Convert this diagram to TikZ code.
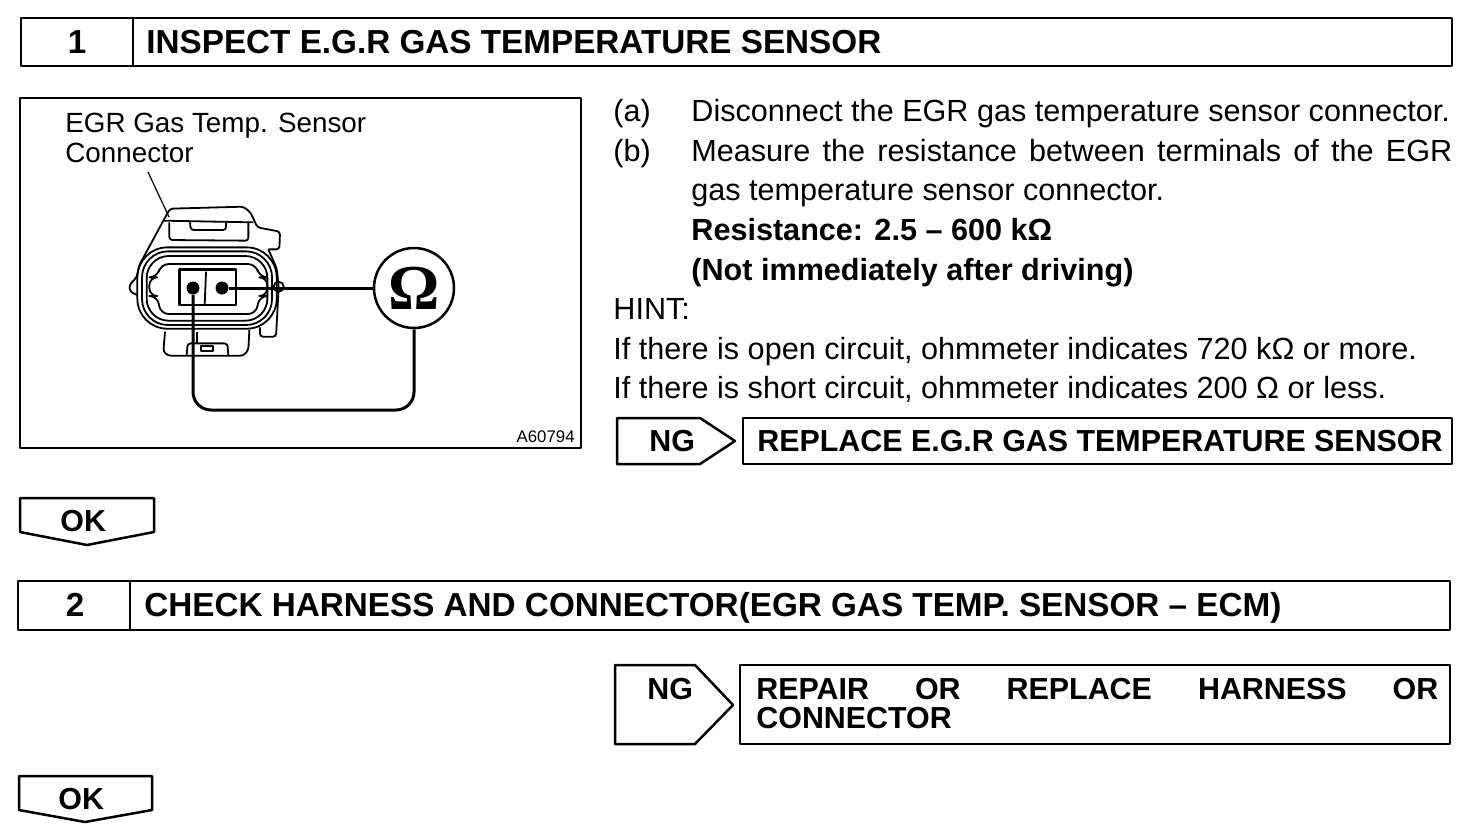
\documentclass[tikz,border=0pt]{standalone}
\usepackage{fontspec}
\setmainfont{Liberation Sans}
\newfontfamily\ohmfont{Liberation Serif}
\usetikzlibrary{positioning}
\begin{document}
\begin{tikzpicture}[
    x=0.5pt, y=-0.5pt,
    frame/.style={draw=black, line width=1.25pt, line join=round},
    part/.style={draw=black, line width=0.9pt, line join=round, rounded corners=1.5pt},
    wire/.style={draw=black, line width=1.5pt},
    heading/.style={font=\bfseries\fontsize{16.63}{18}\selectfont, anchor=base west, inner sep=0pt},
    number/.style={font=\bfseries\fontsize{16.63}{18}\selectfont, anchor=base, inner sep=0pt},
    result/.style={font=\bfseries\fontsize{15.2}{17}\selectfont, anchor=base west, inner sep=0pt},
    body/.style={font=\fontsize{15.3}{17}\selectfont, anchor=base west, inner sep=0pt},
    strong/.style={font=\bfseries\fontsize{15.3}{17}\selectfont, anchor=base west, inner sep=0pt},
    callout/.style={font=\fontsize{13.9}{15}\selectfont, anchor=base west, inner sep=0pt},
    pin/.style={circle, fill=black, inner sep=0pt, minimum size=6.5pt},
  ]
  \useasboundingbox (0,0) rectangle (1472,836);

  \draw[frame] (21,18) rectangle (1452,66);
  \draw[frame] (133,18) -- (133,66);
  \node[number] (num1) at (77,53) {1};
  \node[heading] (title1) at (146,53) {INSPECT E.G.R GAS TEMPERATURE SENSOR};

  \draw[frame] (20,98) rectangle (581,448);
  \node[callout] (label1) at (65,132) {EGR Gas Temp. Sensor};
  \node[callout] (label2) at (65,162) {Connector};
  \node[font=\fontsize{8.4}{10}\selectfont, anchor=base east, inner sep=0pt] (figid) at (575,442) {A60794};

  \begin{scope}[shift={(120,190)}, x=0.1667pt, y=-0.1667pt]
    \draw[part] (130,92) -- (150,56) -- (370,50) -- (392,68) -- (412,112) -- (480,125) -- (478,178) -- (445,178);
    \draw[part] (130,92) -- (400,97);
    \draw[part] (148,97) -- (148,150) -- (385,152) -- (385,97);
    \draw[part] (210,97) -- (212,120) -- (318,120) -- (318,98);
    \draw[part] (130,92) -- (58,225) -- (50,262) -- (28,285) -- (30,305) -- (52,315);
    \draw[part] (445,178) -- (470,235) -- (476,290) -- (468,440) -- (420,440) -- (420,412);
    \draw[part, rounded corners=15pt] (52,172) rectangle (470,416);
    \draw[part, rounded corners=13pt] (66,184) rectangle (456,405);
    \draw[part, rounded corners=11pt] (80,198) rectangle (442,392);
    \draw[part, rounded corners=4pt] (122,222) -- (408,222) -- (418,262) -- (442,262) -- (442,318) -- (418,318) -- (408,372) -- (122,372) -- (112,318) -- (88,318) -- (88,262) -- (112,262) -- cycle;
    \draw[part, line width=1.3pt, rounded corners=0pt] (178,238) rectangle (348,345);
    \draw[part, rounded corners=0pt] (258,245) -- (254,345);
    \draw[part] (135,425) -- (130,485) -- (145,497) -- (370,497) -- (385,480) -- (388,420);
    \draw[part] (200,495) -- (203,460) -- (322,460) -- (325,495);
    \draw[part, rounded corners=0pt] (242,467) rectangle (278,482);
    \draw[part, rounded corners=0pt] (232,425) -- (232,458);
    \draw[part] (476,290) circle[radius=15];
  \end{scope}

  \coordinate (leadtop) at (148,172);
  \coordinate (leadend) at (169,217);
  \draw[part, line width=0.6pt] (leadtop) -- (leadend);

  \node[pin] (pinleft) at (193,288) {};
  \node[pin] (pinright) at (222,288) {};
  \node[circle, draw=black, fill=white, line width=1.25pt, minimum size=40pt, inner sep=0pt, font=\ohmfont\bfseries\fontsize{32}{34}\selectfont] (ohm) at (414,288) {Ω};
  \draw[wire] (pinright) -- (ohm);
  \draw[wire, rounded corners=9pt] (pinleft) |- (300,410) -| (ohm);

  \node[body] (stepa) at (613,121) {(a)};
  \node[body] (texta) at (691,121) {Disconnect the EGR gas temperature sensor connector.};
  \node[body] (stepb) at (613,161) {(b)};
  \node[body] (textb) at (691,161) {\makebox[380.5pt][s]{Measure\hfill the\hfill resistance\hfill between\hfill terminals\hfill of\hfill the\hfill EGR}};
  \node[body] (textb2) at (691,200) {gas temperature sensor connector.};
  \node[strong] (spec1) at (691,240) {Resistance: 2.5 – 600 kΩ};
  \node[strong] (spec2) at (691,280) {(Not immediately after driving)};
  \node[body] (hint) at (613,319) {HINT:};
  \node[body] (hint1) at (613,359) {If there is open circuit, ohmmeter indicates 720 kΩ or more.};
  \node[body] (hint2) at (613,398) {If there is short circuit, ohmmeter indicates 200 Ω or less.};

  \draw[frame] (617,418) -- (700,418) -- (735,441) -- (700,464) -- (617,464) -- cycle;
  \node[result] (ng1) at (649,451) {NG};
  \draw[frame] (743,418) rectangle (1452,464);
  \node[result] (fix1) at (757,451) {REPLACE E.G.R GAS TEMPERATURE SENSOR};

  \draw[frame] (20,498) -- (154,498) -- (154,532) -- (87,545) -- (20,532) -- cycle;
  \node[result] (ok1) at (60,531) {OK};

  \draw[frame] (18,581) rectangle (1450,630);
  \draw[frame] (130,581) -- (130,630);
  \node[number] (num2) at (75,616) {2};
  \node[heading] (title2) at (144,616) {CHECK HARNESS AND CONNECTOR(EGR GAS TEMP. SENSOR – ECM)};

  \draw[frame] (615,665) -- (695,665) -- (733,705) -- (695,744) -- (615,744) -- cycle;
  \node[result] (ng2) at (647,699) {NG};
  \draw[frame] (740,665) rectangle (1450,744);
  \node[result] (fix2) at (756,699) {\makebox[341pt][s]{REPAIR\hfill OR\hfill REPLACE\hfill HARNESS\hfill OR}};
  \node[result] (fix2b) at (756,728) {CONNECTOR};

  \draw[frame] (19,776) -- (152,776) -- (152,810) -- (85,822) -- (19,810) -- cycle;
  \node[result] (ok2) at (58,809) {OK};
\end{tikzpicture}
\end{document}
